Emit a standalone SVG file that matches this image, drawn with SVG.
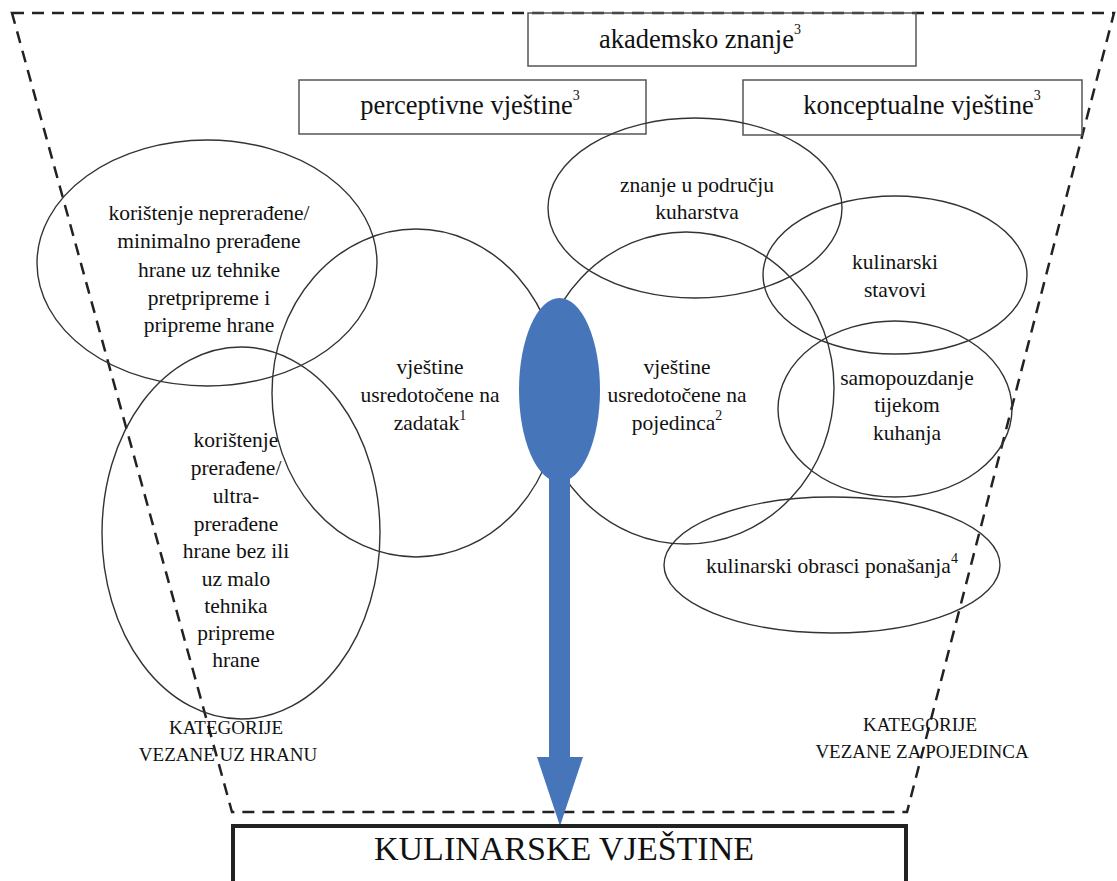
<svg xmlns="http://www.w3.org/2000/svg" width="1117" height="881" viewBox="0 0 1117 881">
<style>
text{font-family:"Liberation Serif","Times New Roman",serif;fill:#111;text-anchor:middle}
.box{fill:none;stroke:#555;stroke-width:1.5}
.el{fill:none;stroke:#333;stroke-width:1.4}
.bt{font-size:26.5px}
.et{font-size:21.5px}
.cat{font-size:19px}
.sup{font-size:14px}
.dash{fill:none;stroke:#222;stroke-width:2.5;stroke-dasharray:12 8}
</style>
<rect width="1117" height="881" fill="#fff"/>
<g id="frame">
<path class="dash" d="M12 13 L1114 13 L907 812 L232 812 Z"/>
</g>
<g id="akademsko">
<rect class="box" x="528" y="13" width="388" height="53"/>
<text class="bt" x="700" y="48">akademsko znanje<tspan class="sup" dy="-14">3</tspan></text>
</g>
<g id="perceptivne">
<rect class="box" x="299" y="80" width="347" height="54"/>
<text class="bt" x="470" y="114">perceptivne vještine<tspan class="sup" dy="-14">3</tspan></text>
</g>
<g id="konceptualne">
<rect class="box" x="743" y="80" width="339" height="55"/>
<text class="bt" x="922" y="114">konceptualne vještine<tspan class="sup" dy="-14">3</tspan></text>
</g>
<g id="neprerađene">
<ellipse class="el" cx="207" cy="263" rx="170" ry="123"/>
<text class="et"><tspan x="209" y="220">korištenje neprerađene/</tspan><tspan x="209" y="248">minimalno prerađene</tspan><tspan x="209" y="277">hrane uz tehnike</tspan><tspan x="209" y="305">pretpripreme i</tspan><tspan x="209" y="332">pripreme hrane</tspan></text>
</g>
<g id="prerađene">
<ellipse class="el" cx="241" cy="533" rx="139" ry="186"/>
<text class="et"><tspan x="236" y="447">korištenje</tspan><tspan x="236" y="475">prerađene/</tspan><tspan x="236" y="503">ultra-</tspan><tspan x="236" y="531">prerađene</tspan><tspan x="236" y="558">hrane bez ili</tspan><tspan x="236" y="586">uz malo</tspan><tspan x="236" y="613">tehnika</tspan><tspan x="236" y="640">pripreme</tspan><tspan x="236" y="667">hrane</tspan></text>
</g>
<g id="zadatak">
<ellipse class="el" cx="416" cy="393" rx="144" ry="164"/>
<text class="et"><tspan x="430" y="374">vještine</tspan><tspan x="430" y="402">usredotočene na</tspan><tspan x="430" y="430">zadatak<tspan class="sup" dy="-10">1</tspan></tspan></text>
</g>
<g id="pojedinca">
<ellipse class="el" cx="686" cy="388" rx="148" ry="156"/>
<text class="et"><tspan x="677" y="374">vještine</tspan><tspan x="677" y="402">usredotočene na</tspan><tspan x="677" y="430">pojedinca<tspan class="sup" dy="-10">2</tspan></tspan></text>
</g>
<g id="znanje">
<ellipse class="el" cx="695" cy="208" rx="147" ry="90"/>
<text class="et"><tspan x="697" y="192">znanje u području</tspan><tspan x="697" y="219">kuharstva</tspan></text>
</g>
<g id="stavovi">
<ellipse class="el" cx="895" cy="275" rx="132" ry="79"/>
<text class="et"><tspan x="895" y="269">kulinarski</tspan><tspan x="895" y="297">stavovi</tspan></text>
</g>
<g id="samopouzdanje">
<ellipse class="el" cx="895" cy="409" rx="117" ry="88"/>
<text class="et"><tspan x="907" y="385">samopouzdanje</tspan><tspan x="907" y="412">tijekom</tspan><tspan x="907" y="440">kuhanja</tspan></text>
</g>
<g id="obrasci">
<ellipse class="el" cx="832" cy="565" rx="168" ry="68"/>
<text class="et" x="832" y="573">kulinarski obrasci ponašanja<tspan class="sup" dy="-10">4</tspan></text>
</g>
<g id="labels">
<text class="cat"><tspan x="226" y="734">KATEGORIJE</tspan><tspan x="228" y="761">VEZANE UZ HRANU</tspan></text>
<text class="cat"><tspan x="920" y="731">KATEGORIJE</tspan><tspan x="922" y="758">VEZANE ZA POJEDINCA</tspan></text>
</g>
<g id="connectors">
<g id="spoon" fill="#4775BA">
<ellipse cx="559.5" cy="390" rx="40.5" ry="92"/>
<rect x="549" y="460" width="21" height="300"/>
<polygon points="537,757 583,757 560,826"/>
</g>
</g>
<g id="kulinarske">
<rect x="233" y="826" width="673" height="60" fill="none" stroke="#222" stroke-width="4"/>
<text x="564" y="860" style="font-size:34px">KULINARSKE VJEŠTINE</text>
</g>
</svg>
